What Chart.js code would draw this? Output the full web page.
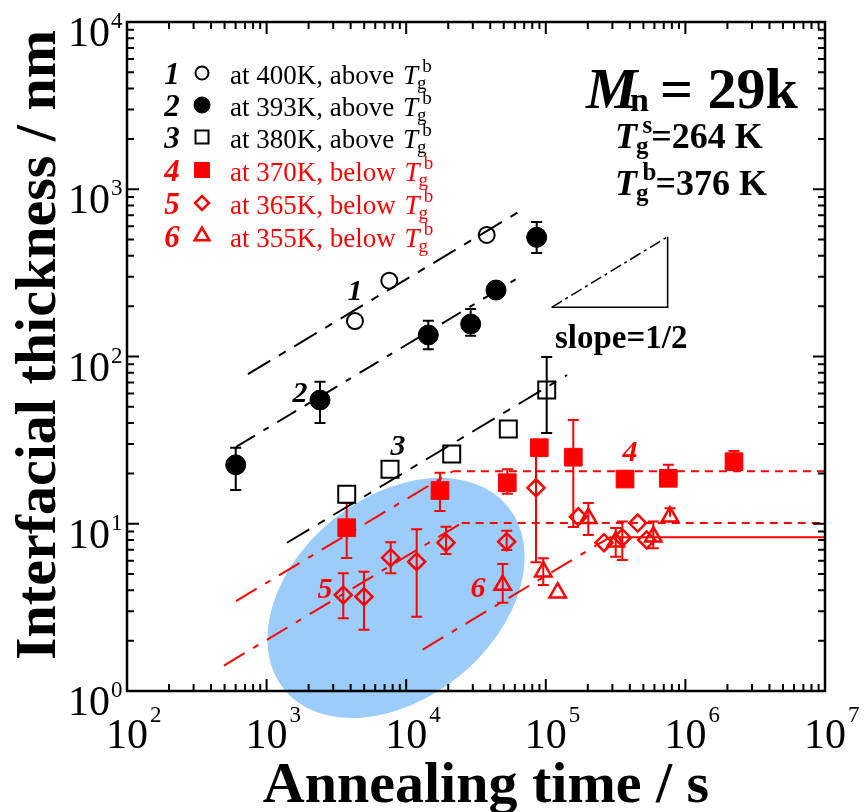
<!DOCTYPE html>
<html>
<head>
<meta charset="utf-8">
<title>Interfacial thickness vs annealing time</title>
<script src="https://cdn.jsdelivr.net/npm/chart.js@4.4.1/dist/chart.umd.min.js"></script>
<style>
  html, body { margin: 0; padding: 0; background: #fff; }
  #wrap { width: 867px; height: 812px; }
</style>
</head>
<body>
<div id="wrap"><canvas id="thickChart" width="867" height="812"></canvas></div>
<script>
// =====================================================
// Data (time in s, thickness in nm)
// =====================================================

const xPowers = [2, 3, 4, 5, 6, 7];
const yPowers = [0, 1, 2, 3, 4];

// 1 : 400 K (open circles)
const t400 = [4297, 7567, 37730];
const d400 = [163, 284, 533];

// 2 : 393 K (filled circles)
const t393 = [601, 2413, 14400, 28970, 43990, 86050];
const d393 = [22.5, 54.9, 134.5, 156.4, 249.7, 516];
const d393Lo = [15.9, 40.0, 110.4, 133.2, null, 415.7];
const d393Hi = [28.5, 70.7, 163.7, 192.3, null, 637.2];

// 3 : 380 K (open squares)
const t380 = [3749, 7656, 21180, 53880, 101500];
const d380 = [15.0, 21.2, 26.1, 36.9, 63.0];
const d380Lo = [null, null, null, null, 34.9];
const d380Hi = [null, null, null, null, 99.3];

// 4 : 370 K (filled red squares)
const t370 = [3749, 17460, 52990, 89830, 157400, 369300, 754300, 2229000];
const d370 = [9.47, 15.8, 17.6, 28.5, 25.0, 18.5, 18.7, 23.5];
const d370Lo = [6.24, 11.9, 15.1, null, 9.56, null, null, null];
const d370Hi = [13.3, 20.2, 21.2, null, 41.7, null, 22.5, 27.2];

// 5 : 365 K (red diamonds)
const t365 = [3543, 4985, 7745, 11890, 19280, 52470, 85070, 170900, 261200, 353200, 455200, 528200];
const d365 = [3.75, 3.66, 6.27, 5.93, 7.70, 7.81, 16.4, 11.0, 7.70, 8.25, 10.1, 8.0];
const d365Lo = [2.72, 2.32, 5.06, 2.78, 6.59, 6.97, 5.88, null, null, 6.07, null, null];
const d365Hi = [5.06, 5.17, 7.75, 9.27, 9.60, 9.09, 25.8, null, null, 10.3, null, null];

// 6 : 355 K (red triangles)
const t355 = [49130, 95960, 121700, 201600, 316700, 589000, 775800];
const d355 = [4.30, 5.17, 3.87, 10.8, 7.81, 8.37, 11.0];
const d355Lo = [3.37, 4.30, null, 8.57, 6.35, 7.13, null];
const d355Hi = [5.74, 6.21, null, 13.3, 9.43, 10.3, 12.4];

// guide lines (slope 1/2, then plateau)
const fit400T = [736, 71000];
const fit400D = [78.5, 771];
const fit393T = [604, 61200];
const fit393D = [28.8, 290];
const fit380T = [1400, 142000];
const fit380D = [7.7, 77.5];
const fit370T = [604, 21600, 1e7];
const fit370D = [3.45, 20.6, 20.6];
const fit365T = [495, 25000, 1e7];
const fit365D = [1.42, 10.1, 10.1];
const fit355T = [13130, 288000, 1e7];
const fit355D = [1.77, 8.3, 8.3];

// slope = 1/2 triangle
const slopeT = [110200, 746000, 746000];
const slopeD = [196.8, 196.8, 520];

// shaded region centre (time, thickness)
const shadeCentre = [8450, 3.6];


// =====================================================
// Helpers
// =====================================================

const serif = "'Liberation Serif', 'Times New Roman', serif";
const RED = "#ff0000";

function pts(ts, ds){
    return ts.map((t, i) => ({x: t, y: ds[i]}));
}

function drawMarker(ctx, style, x, y, r, filled, color, lw){

    ctx.beginPath();

    if(style === "circle"){
        ctx.arc(x, y, r, 0, Math.PI * 2);
    } else if(style === "rect"){
        ctx.rect(x - r, y - r, 2 * r, 2 * r);
    } else if(style === "rectRot"){
        ctx.moveTo(x, y - r);
        ctx.lineTo(x + r, y);
        ctx.lineTo(x, y + r);
        ctx.lineTo(x - r, y);
        ctx.closePath();
    } else if(style === "triangle"){
        const c = Math.cos(Math.PI / 6) * r;
        ctx.moveTo(x, y - r);
        ctx.lineTo(x + c, y + r / 2);
        ctx.lineTo(x - c, y + r / 2);
        ctx.closePath();
    }

    ctx.lineWidth = lw;
    ctx.strokeStyle = color;
    ctx.fillStyle = color;
    if(filled) ctx.fill();
    ctx.stroke();

}

// italic T with subscript g and a superscript
function drawTg(ctx, x, base, size, weight, sup){

    ctx.textAlign = "left";
    ctx.font = `italic ${weight} ${size}px ${serif}`;
    ctx.fillText("T", x, base);
    const w = ctx.measureText("T").width;

    const small = Math.round(size * 0.7);
    ctx.font = `${weight} ${small}px ${serif}`;
    ctx.fillText("g", x + w - 1, base + size * 0.18);
    const gw = ctx.measureText("g").width;
    ctx.fillText(sup, x + w + gw * 0.45, base - size * 0.43);

    return x + w + Math.max(gw, gw * 0.45 + ctx.measureText(sup).width);

}

const errorSets = [
    {t: t393, d: d393, lo: d393Lo, hi: d393Hi, color: "#000"},
    {t: t380, d: d380, lo: d380Lo, hi: d380Hi, color: "#000"},
    {t: t370, d: d370, lo: d370Lo, hi: d370Hi, color: RED},
    {t: t365, d: d365, lo: d365Lo, hi: d365Hi, color: RED},
    {t: t355, d: d355, lo: d355Lo, hi: d355Hi, color: RED}
];

const legendRows = [
    {num: "1", style: "circle",   r: 6.5, filled: false, lw: 2,   color: "#000", text: "at 400K, above "},
    {num: "2", style: "circle",   r: 8,   filled: true,  lw: 1,   color: "#000", text: "at 393K, above "},
    {num: "3", style: "rect",     r: 6.5, filled: false, lw: 2,   color: "#000", text: "at 380K, above "},
    {num: "4", style: "rect",     r: 7.5, filled: true,  lw: 1,   color: RED,    text: "at 370K, below "},
    {num: "5", style: "rectRot",  r: 7,   filled: false, lw: 2.5, color: RED,    text: "at 365K, below "},
    {num: "6", style: "triangle", r: 8.5, filled: false, lw: 2.5, color: RED,    text: "at 355K, below "}
];

const curveLabels = [
    {text: "1", x: 355, y: 292, color: "#000"},
    {text: "2", x: 300, y: 394, color: "#000"},
    {text: "3", x: 398, y: 447, color: "#000"},
    {text: "4", x: 630, y: 453, color: RED},
    {text: "5", x: 325, y: 590, color: RED},
    {text: "6", x: 478, y: 589, color: RED}
];


// =====================================================
// Plugin: shaded region, error bars, frame, ticks, text
// =====================================================

const figurePlugin = {

    id: "figurePlugin",

    beforeDraw(chart){

        const {ctx, scales: {x, y}} = chart;

        ctx.save();
        ctx.fillStyle = "#ffffff";
        ctx.fillRect(0, 0, chart.width, chart.height);

        const dec = x.getPixelForValue(1000) - x.getPixelForValue(100);
        const cx = x.getPixelForValue(shadeCentre[0]);
        const cy = y.getPixelForValue(shadeCentre[1]);

        ctx.fillStyle = "rgb(155,204,250)";
        ctx.beginPath();
        ctx.ellipse(cx, cy, 1.035 * dec, 0.72 * dec, -39.3 * Math.PI / 180, 0, Math.PI * 2);
        ctx.fill();
        ctx.restore();

    },

    beforeDatasetsDraw(chart){

        const {ctx, scales: {x, y}} = chart;
        const cap = 5.5;

        ctx.save();
        ctx.lineWidth = 2;

        errorSets.forEach(set => {

            ctx.strokeStyle = set.color;

            set.t.forEach((t, i) => {

                const lo = set.lo[i], hi = set.hi[i];
                if(lo === null && hi === null) return;

                const px = x.getPixelForValue(t);
                const yTop = y.getPixelForValue(hi !== null ? hi : set.d[i]);
                const yBot = y.getPixelForValue(lo !== null ? lo : set.d[i]);

                ctx.beginPath();
                ctx.moveTo(px, yTop);
                ctx.lineTo(px, yBot);
                if(hi !== null){
                    ctx.moveTo(px - cap, yTop);
                    ctx.lineTo(px + cap, yTop);
                }
                if(lo !== null){
                    ctx.moveTo(px - cap, yBot);
                    ctx.lineTo(px + cap, yBot);
                }
                ctx.stroke();

            });

        });

        ctx.restore();

    },

    afterDraw(chart){

        const {ctx, chartArea: a, scales: {x, y}} = chart;

        ctx.save();

        // ---------- frame ----------
        ctx.strokeStyle = "#000";
        ctx.lineWidth = 2.5;
        ctx.strokeRect(a.left, a.top, a.right - a.left, a.bottom - a.top);

        // ---------- inward ticks on all four sides ----------
        ctx.lineWidth = 2;
        ctx.beginPath();

        for(let p = 2; p <= 7; p++){
            for(let k = 1; k <= 9; k++){
                const v = k * Math.pow(10, p);
                if(v > x.max * 1.0001) break;
                const px = x.getPixelForValue(v);
                const len = k === 1 ? 12 : 7;
                ctx.moveTo(px, a.bottom);
                ctx.lineTo(px, a.bottom - len);
                ctx.moveTo(px, a.top);
                ctx.lineTo(px, a.top + len);
            }
        }

        for(let p = 0; p <= 4; p++){
            for(let k = 1; k <= 9; k++){
                const v = k * Math.pow(10, p);
                if(v > y.max * 1.0001) break;
                const py = y.getPixelForValue(v);
                const len = k === 1 ? 12 : 7;
                ctx.moveTo(a.left, py);
                ctx.lineTo(a.left + len, py);
                ctx.moveTo(a.right, py);
                ctx.lineTo(a.right - len, py);
            }
        }

        ctx.stroke();

        // ---------- tick labels ----------
        ctx.fillStyle = "#000";
        ctx.textBaseline = "alphabetic";

        xPowers.forEach(p => {
            const px = x.getPixelForValue(Math.pow(10, p));
            ctx.font = `42px ${serif}`;
            ctx.textAlign = "center";
            ctx.fillText("10", px, a.bottom + 57);
            const w = ctx.measureText("10").width;
            ctx.font = `23px ${serif}`;
            ctx.textAlign = "left";
            ctx.fillText(String(p), px + w / 2 + 2, a.bottom + 31);
        });

        yPowers.forEach(p => {
            const py = y.getPixelForValue(Math.pow(10, p));
            ctx.font = `42px ${serif}`;
            ctx.textAlign = "right";
            ctx.fillText("10", 110, py + 24);
            ctx.font = `23px ${serif}`;
            ctx.textAlign = "left";
            ctx.fillText(String(p), 111, py + 6);
        });

        // ---------- axis titles ----------
        ctx.font = `bold 58px ${serif}`;
        ctx.textAlign = "center";
        ctx.fillText("Annealing time / s", 486, 802);

        ctx.save();
        ctx.translate(55, 345);
        ctx.rotate(-Math.PI / 2);
        ctx.fillText("Interfacial thickness / nm", 0, 0);
        ctx.restore();

        // ---------- legend ----------
        const rowY = [73, 105, 137, 170, 203, 236];

        legendRows.forEach((row, i) => {

            const cy = rowY[i];
            ctx.fillStyle = row.color;

            ctx.font = `italic bold 31px ${serif}`;
            ctx.textAlign = "center";
            ctx.fillText(row.num, 172, cy + 11);

            drawMarker(ctx, row.style, 202, cy, row.r, row.filled, row.color, row.lw);

            ctx.fillStyle = row.color;
            ctx.font = `27px ${serif}`;
            ctx.textAlign = "left";
            ctx.fillText(row.text, 230, cy + 11);
            const w = ctx.measureText(row.text).width;
            drawTg(ctx, 232 + w, cy + 11, 27, "normal", "b");

        });

        // ---------- sample info ----------
        ctx.fillStyle = "#000";
        ctx.textAlign = "left";
        ctx.font = `italic bold 58px ${serif}`;
        ctx.fillText("M", 586, 108);
        ctx.font = `bold 34px ${serif}`;
        ctx.fillText("n", 630, 111);
        ctx.font = `bold 58px ${serif}`;
        ctx.fillText("= 29k", 660, 108);

        let xe = drawTg(ctx, 615, 148, 36, "bold", "s");
        ctx.font = `bold 36px ${serif}`;
        ctx.fillText("=264 K", xe - 1, 148);

        xe = drawTg(ctx, 615, 195, 36, "bold", "b");
        ctx.font = `bold 36px ${serif}`;
        ctx.fillText("=376 K", xe - 1, 195);

        ctx.font = `bold 33px ${serif}`;
        ctx.fillText("slope=1/2", 555, 348);

        // ---------- curve numbers ----------
        ctx.font = `italic bold 30px ${serif}`;
        ctx.textAlign = "center";
        ctx.textBaseline = "middle";
        curveLabels.forEach(lb => {
            ctx.fillStyle = lb.color;
            ctx.fillText(lb.text, lb.x, lb.y);
        });

        ctx.restore();

    }

};


// =====================================================
// Datasets
// =====================================================

const dashLong = [24, 10, 6, 10];
const dashShort = [8, 6];

function guide(ts, ds, color, dash){
    return {
        data: pts(ts, ds),
        showLine: true,
        pointRadius: 0,
        borderColor: color,
        borderWidth: 2,
        borderDash: dash,
        fill: false
    };
}

const datasets = [

    {data: pts(t400, d400), pointStyle: "circle", pointRadius: 8,
     borderColor: "#000", backgroundColor: "rgba(0,0,0,0)", pointBorderWidth: 2},

    {data: pts(t393, d393), pointStyle: "circle", pointRadius: 10,
     borderColor: "#000", backgroundColor: "#000", pointBorderWidth: 1},

    {data: pts(t380, d380), pointStyle: "rect", pointRadius: 12,
     borderColor: "#000", backgroundColor: "rgba(0,0,0,0)", pointBorderWidth: 2},

    {data: pts(t370, d370), pointStyle: "rect", pointRadius: 12.5,
     borderColor: RED, backgroundColor: RED, pointBorderWidth: 1},

    {data: pts(t365, d365), pointStyle: "rectRot", pointRadius: 8.5,
     borderColor: RED, backgroundColor: "rgba(0,0,0,0)", pointBorderWidth: 2.5},

    {data: pts(t355, d355), pointStyle: "triangle", pointRadius: 9.5,
     borderColor: RED, backgroundColor: "rgba(0,0,0,0)", pointBorderWidth: 2.5},

    guide(fit400T, fit400D, "#000", [26, 10, 8, 10]),
    guide(fit393T, fit393D, "#000", [22, 10, 6, 10]),
    guide(fit380T, fit380D, "#000", [26, 10, 8, 10]),

    Object.assign(guide(fit370T, fit370D, RED, dashLong), {
        segment: {borderDash: c => c.p0DataIndex === 0 ? dashLong : dashShort}
    }),

    Object.assign(guide(fit365T, fit365D, RED, dashLong), {
        segment: {borderDash: c => c.p0DataIndex === 0 ? dashLong : dashShort}
    }),

    Object.assign(guide(fit355T, fit355D, RED, dashLong), {
        segment: {borderDash: c => c.p0DataIndex === 0 ? dashLong : []}
    }),

    Object.assign(guide(slopeT, slopeD, "#000", []), {borderWidth: 1.5}),

    Object.assign(guide([slopeT[0], slopeT[2]], [slopeD[0], slopeD[2]], "#000", [12, 4, 3, 4]), {borderWidth: 1.5})

];


// =====================================================
// Chart
// =====================================================

const canvas = document.getElementById("thickChart");

new Chart(canvas, {

    type: "scatter",

    data: {datasets: datasets},

    options: {

        responsive: false,
        animation: false,
        devicePixelRatio: 1,
        events: [],

        layout: {
            padding: {top: 22, right: 42, left: 0, bottom: 0}
        },

        scales: {

            x: {
                type: "logarithmic",
                min: 100,
                max: 1e7,
                position: "bottom",
                ticks: {display: false},
                grid: {display: false},
                border: {display: false},
                afterFit: s => { s.height = 121; }
            },

            y: {
                type: "logarithmic",
                min: 1,
                max: 1e4,
                position: "left",
                ticks: {display: false},
                grid: {display: false},
                border: {display: false},
                afterFit: s => { s.width = 127; }
            }

        },

        plugins: {
            legend: {display: false},
            tooltip: {enabled: false}
        }

    },

    plugins: [figurePlugin]

});
</script>
</body>
</html>
